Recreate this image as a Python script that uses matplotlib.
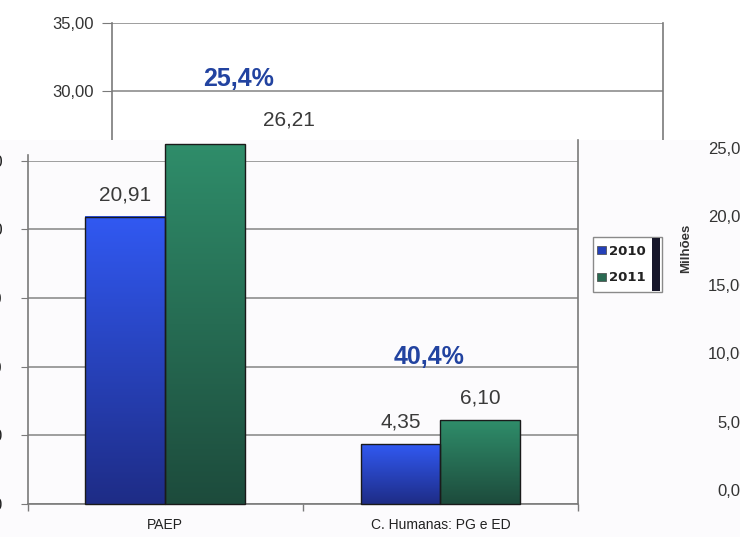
import numpy as np
import matplotlib
matplotlib.use("Agg")
import matplotlib.pyplot as plt
from matplotlib.colors import LinearSegmentedColormap
from matplotlib.patches import Rectangle, Patch

# ---------------- data ----------------
categories = ['PAEP', 'C. Humanas: PG e ED']
series = ['2010', '2011']
values_2010 = [20.91, 4.35]
values_2011 = [26.21, 6.10]
pct_labels = ['25,4%', '40,4%']
front_yticks = [0, 5, 10, 15, 20, 25]
back_yticks = [0, 5, 10, 15, 20, 25, 30, 35]
right_yticks = [0, 5, 10, 15, 20, 25]

W, H = 740, 537
COVER_TOP = 140  # px from top where the front sheet starts
fig = plt.figure(figsize=(W / 100, H / 100), dpi=100)
fig.patch.set_facecolor('white')
plt.rcParams['font.family'] = ['Liberation Sans', 'DejaVu Sans']

def fpos(l, t, r, b):
    return [l / W, 1 - b / H, (r - l) / W, (b - t) / H]

def fmt2(v):
    return f"{v:.2f}".replace('.', ',')

grads = [('#3159f2', '#1e2c86'), ('#2f8d6a', '#1d4b3c')]
gridc = '#8e8e8e'
grad = np.linspace(0, 1, 256).reshape(-1, 1)

def draw_chart(ax, ymax, yticks, covered=False):
    x = np.arange(len(categories))
    w = 0.29
    ax.set_facecolor('none')
    ax.set_xlim(-0.5, len(categories) - 0.5)
    ax.set_ylim(0, ymax)
    cover_disp = (1 - COVER_TOP / H) * H  # display y of the cover's top edge

    def hidden(v, off_px):
        if not covered:
            return False
        y = ax.transData.transform((0, v))[1]
        return y + off_px < cover_disp

    texts = []
    for k, vals in enumerate([values_2010, values_2011]):
        ctop, cbot = grads[k]
        cmap = LinearSegmentedColormap.from_list('g%d' % k, [cbot, ctop])
        bars = ax.bar(x + (k - 0.5) * w, vals, w, facecolor='none',
                      edgecolor='#1a1a1a', lw=1.0, zorder=4, clip_on=False)
        for b, v in zip(bars, vals):
            im = ax.imshow(grad, extent=[b.get_x(), b.get_x() + b.get_width(), 0, b.get_height()],
                           origin='lower', cmap=cmap, aspect='auto', zorder=3)
            im.set_clip_path(b)
            im.set_clip_box(fig.bbox)
            if not hidden(v, 12):
                ax.annotate(fmt2(v), (b.get_x() + b.get_width() / 2, v), xytext=(0, 9),
                            textcoords='offset points', ha='center', va='bottom',
                            fontsize=15, color='#3a3a3a', clip_on=True, zorder=5)
    for i, p in enumerate(pct_labels):
        top = max(values_2010[i], values_2011[i])
        if not hidden(top, 52):
            ax.annotate(p, (i - 0.04, top), xytext=(0, 37), textcoords='offset points',
                        ha='center', va='bottom', fontsize=18, fontweight='bold',
                        color='#2243a0', clip_on=True, zorder=5)
    ax.set_xlim(-0.5, len(categories) - 0.5)
    ax.set_ylim(0, ymax)
    ax.set_yticks(yticks)
    ax.set_yticklabels(['' if hidden(t, 8) else fmt2(t) for t in yticks])
    ax.yaxis.grid(True, color=gridc, lw=1.2, zorder=1)
    ax.set_axisbelow(True)
    for s in ['left', 'right', 'bottom']:
        ax.spines[s].set_color('#7a7a7a')
        ax.spines[s].set_linewidth(1.2)
    ax.spines['top'].set_visible(False)
    ax.set_xticks(range(len(categories)))
    ax.set_xticklabels([] if covered else categories, fontsize=10, color='#222222')
    ax.set_xticks(np.arange(-0.5, len(categories), 1.0), minor=True)
    ax.tick_params(axis='x', which='major', length=0, pad=10)
    ax.tick_params(axis='x', which='minor', length=5, color='#7a7a7a', width=1.0)

# ---------- background (offset) chart ----------
axb = fig.add_axes(fpos(111.7, 22.7, 662.7, 498.7), zorder=0)
draw_chart(axb, 35, back_yticks, covered=True)
axb.tick_params(axis='y', length=7, pad=6, labelsize=12, color='#7a7a7a', labelcolor='#333333')

# ---------- cover sheet ----------
fig.patches.append(Rectangle((0, 0), 1, 1 - COVER_TOP / H, transform=fig.transFigure,
                             facecolor='#fcfbfd', edgecolor='none', zorder=1))

# ---------- front chart ----------
axf = fig.add_axes(fpos(27.7, 160.7, 578, 504), zorder=2)
draw_chart(axf, 25, front_yticks)
axf.tick_params(axis='y', length=5, pad=13, labelsize=12, color='#7a7a7a', labelcolor='#222222')
axf.spines['right'].set_bounds(0, 26.5)
axf.spines['left'].set_bounds(0, 25.4)

# ---------- right-side value axis fragment ----------
axr = fig.add_axes(fpos(758, 148, 790, 490), zorder=3)
axr.set_facecolor('none')
axr.set_ylim(0, 25)
axr.set_yticks(right_yticks)
axr.set_yticklabels([fmt2(t) for t in right_yticks])
axr.tick_params(axis='y', length=0, pad=6, labelsize=12, labelcolor='#333333')
axr.set_xticks([])
for s in axr.spines.values():
    s.set_visible(False)
fig.text(686 / W, 1 - 248 / H, 'Milhões', rotation=90, ha='center', va='center',
         fontsize=9.5, fontweight='bold', color='#333333', zorder=4)

# ---------- legend ----------
fig.patches.append(Rectangle((593 / W, 1 - 292 / H), (662 - 593) / W, (292 - 237) / H,
                             transform=fig.transFigure, facecolor='white',
                             edgecolor='#8a8a8a', lw=1.0, zorder=3))
fig.patches.append(Rectangle((652 / W, 1 - 291 / H), (660 - 652) / W, (291 - 238) / H,
                             transform=fig.transFigure, facecolor='#17172a',
                             edgecolor='none', zorder=3.5))
handles = [Patch(facecolor='#2440b8', edgecolor='#444444', lw=0.5),
           Patch(facecolor='#2a6a52', edgecolor='#444444', lw=0.5)]
leg = fig.legend(handles, series, loc='upper left', bbox_to_anchor=(594 / W, 1 - 242 / H),
                 frameon=False, fontsize=9.5, handlelength=0.7, handleheight=0.6,
                 handletextpad=0.25, borderpad=0.2, labelspacing=1.05, borderaxespad=0)
leg.set_zorder(4)
for t in leg.get_texts():
    t.set_fontweight('bold')
    t.set_family('DejaVu Sans')
    t.set_color('#222222')

fig.savefig('out.png', dpi=100)
